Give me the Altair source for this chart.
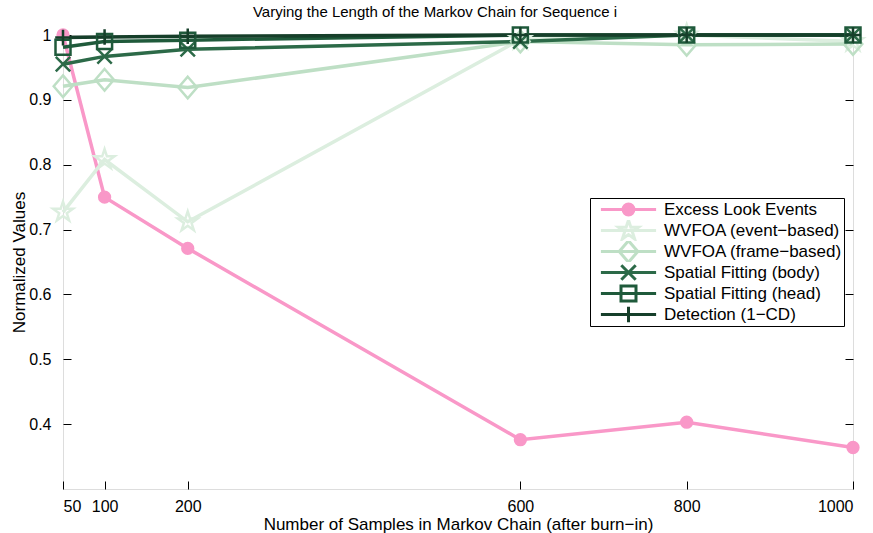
import altair as alt
import pandas as pd

# ---------------- data ----------------
x_samples = [50, 100, 200, 600, 800, 1000]

series_names = [
    "Excess Look Events",
    "WVFOA (event−based)",
    "WVFOA (frame−based)",
    "Spatial Fitting (body)",
    "Spatial Fitting (head)",
    "Detection (1−CD)",
]

excess_look = [1.0, 0.75, 0.671, 0.376, 0.403, 0.364]
wvfoa_event = [0.727, 0.808, 0.712, 0.993, 1.0, 0.99]
wvfoa_frame = [0.921, 0.931, 0.919, 0.99, 0.985, 0.986]
fit_body = [0.955, 0.967, 0.978, 0.99, 1.0, 1.0]
fit_head = [0.981, 0.99, 0.992, 1.0, 1.0, 1.0]
detection = [0.996, 0.997, 0.998, 1.0, 1.0, 1.0]

all_values = [excess_look, wvfoa_event, wvfoa_frame, fit_body, fit_head, detection]

x_ticks = [50, 100, 200, 600, 800, 1000]
y_ticks = [0.4, 0.5, 0.6, 0.7, 0.8, 0.9, 1.0]

# ---------------- styles ----------------
colors = ["#F998C8", "#DCEEDF", "#BEDFC5", "#2C6A48", "#1F5A3B", "#163F2A"]
fills = ["#F998C8", "transparent", "transparent", "transparent", "transparent", "transparent"]

circle_p = ("M-0.9,0C-0.9,-0.497,-0.497,-0.9,0,-0.9C0.497,-0.9,0.9,-0.497,0.9,0"
            "C0.9,0.497,0.497,0.9,0,0.9C-0.497,0.9,-0.9,0.497,-0.9,0Z")
star_p = ("M0,-1.75L0.394,-0.542L1.664,-0.541L0.637,0.207L1.029,1.416L0,0.67"
          "L-1.029,1.416L-0.637,0.207L-1.664,-0.541L-0.394,-0.542Z")
diamond_p = "M0,-1.8L1.55,0L0,1.8L-1.55,0Z"
x_p = "M-1.2,-1.2L1.2,1.2M-1.2,1.2L1.2,-1.2"
square_p = "M-1.25,-1.25L1.25,-1.25L1.25,1.25L-1.25,1.25Z"
plus_p = "M-1.3,0L1.3,0M0,-1.3L0,1.3"
marker_paths = [circle_p, star_p, diamond_p, x_p, square_p, plus_p]

# legend glyphs: line segment + marker
seg = "M-4.6,0L4.6,0"
legend_paths = [seg + p for p in marker_paths]

FONT = "Liberation Sans"

rows = []
for name, vals in zip(series_names, all_values):
    for xv, yv in zip(x_samples, vals):
        rows.append({"samples": xv, "value": yv, "series": name})
df = pd.DataFrame(rows)

xscale = alt.Scale(domain=[50, 1000], nice=False, zero=False)
yscale = alt.Scale(domain=[0.3, 1.0], nice=False, zero=False)


def cscale():
    return alt.Scale(domain=series_names, range=colors)


def tick_axis(orient):
    return alt.Axis(values=x_ticks if orient in ("top", "bottom") else y_ticks,
                    orient=orient, offset=-8, tickSize=8, tickWidth=1,
                    tickColor="black", labels=False, domain=False,
                    grid=False, title=None)


base = alt.Chart(df)

lines = base.mark_line(strokeWidth=3.5).encode(
    x=alt.X("samples:Q", scale=xscale,
            axis=alt.Axis(values=x_ticks, orient="bottom", ticks=False, tickSize=0,
                          domain=False, grid=False, labelPadding=9, format="d",
                          labelFontSize=16, labelFont=FONT, labelColor="black",
                          title="Number of Samples in Markov Chain (after burn−in)",
                          titleFontSize=17, titleFont=FONT, titleFontWeight="normal",
                          titleColor="black", titlePadding=2)),
    y=alt.Y("value:Q", scale=yscale,
            axis=alt.Axis(values=y_ticks, orient="left", ticks=False, tickSize=0,
                          domain=False, grid=False, labelPadding=12,
                          labelFontSize=16, labelFont=FONT, labelColor="black",
                          labelExpr="datum.value == 1 ? '1' : format(datum.value, '.1f')",
                          title="Normalized Values", titleFontSize=17, titleFont=FONT,
                          titleFontWeight="normal", titleColor="black",
                          titleX=-44, titleAngle=-90, titleBaseline="middle",
                          titleAlign="center")),
    color=alt.Color("series:N", scale=cscale(), legend=None),
)

points = base.mark_point(size=144, strokeWidth=2.5, opacity=1).encode(
    x=alt.X("samples:Q", scale=xscale, axis=tick_axis("bottom")),
    y=alt.Y("value:Q", scale=yscale, axis=tick_axis("left")),
    color=alt.Color("series:N", scale=cscale(), legend=None),
    shape=alt.Shape("series:N", scale=alt.Scale(domain=series_names, range=marker_paths),
                    legend=None),
    fill=alt.Fill("series:N", scale=alt.Scale(domain=series_names, range=fills),
                  legend=None),
)

leg = alt.Legend(
    title=None, orient="none", legendX=527, legendY=163,
    padding=1, strokeColor="black", fillColor="white", cornerRadius=0,
    symbolSize=144, symbolStrokeWidth=3, symbolOffset=29, labelOffset=27,
    rowPadding=0, clipHeight=21, labelFontSize=17, labelFont=FONT,
    labelColor="black", labelLimit=300,
)

legend_layer = base.transform_filter("false").mark_point(
    size=144, strokeWidth=3, opacity=1
).encode(
    x=alt.X("samples:Q", scale=xscale, axis=tick_axis("top")),
    y=alt.Y("value:Q", scale=yscale, axis=tick_axis("right")),
    color=alt.Color("series:N", scale=cscale(), legend=leg),
    shape=alt.Shape("series:N", scale=alt.Scale(domain=series_names, range=legend_paths),
                    legend=leg),
    fill=alt.Fill("series:N", scale=alt.Scale(domain=series_names, range=fills),
                  legend=leg),
)

chart = alt.layer(lines, points, legend_layer).resolve_scale(
    color="independent", shape="independent", fill="independent"
).resolve_axis(
    x="independent", y="independent"
).properties(
    width=790,
    height=454,
    padding={"left": 63, "top": 35, "right": 20, "bottom": 44},
    autosize=alt.AutoSizeParams(type="none"),
    title=alt.TitleParams(
        "Varying the Length of the Markov Chain for Sequence i",
        fontSize=15, font=FONT, fontWeight="normal", color="black",
        anchor="middle", frame="group", offset=6, dx=-23, dy=6,
    ),
).configure_view(
    stroke="black", strokeWidth=1
).configure(background="white")

chart.save("out.html", embed_options={"renderer": "svg", "actions": False})
